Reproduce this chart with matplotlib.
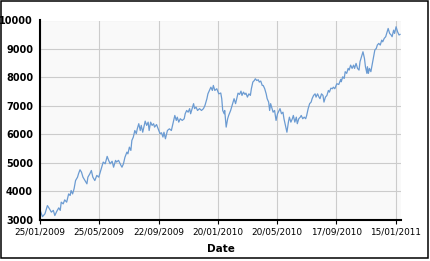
import datetime as dt

import matplotlib
matplotlib.use('Agg')
import matplotlib.pyplot as plt
from matplotlib.patches import Rectangle

# series: days after 25/01/2009 and index value
start = dt.date(2009, 1, 25)
day = [1, 5, 10, 15, 19, 23, 27, 30, 34, 38, 41, 43, 47, 50, 54, 58, 61, 63, 66, 69,
       72, 76, 78, 81, 84, 87, 91, 95, 97, 101, 104, 107, 111, 115, 119,
       123, 128, 132, 136, 139, 142, 146, 149, 153, 155, 159, 164, 166, 169, 172, 176,
       178, 181, 184, 186, 189, 192, 195, 197, 200, 203, 205, 208, 211, 213, 216, 219,
       221, 224, 227, 230, 232, 236, 239, 243, 246,
       249, 251, 254, 258, 262, 266, 270, 273, 276, 278, 281, 284, 288, 292, 294, 297,
       300, 303, 305, 308, 311, 313, 316, 319, 323, 327, 331, 334, 338, 340, 343, 346,
       349, 351, 354, 358, 362, 366, 368, 370,
       373, 374, 377, 380, 382, 386, 391, 393, 396, 399, 401, 404, 407, 409, 412, 415,
       417, 420, 423, 426, 428, 431, 434, 436, 439, 442, 444, 447, 450, 452, 455, 458,
       460, 463, 465, 467, 470, 472, 475, 478, 481,
       486, 489, 492, 494, 497, 500, 503, 505, 508, 511, 513, 516, 519, 521, 524, 527,
       529, 532, 535, 538, 540, 543, 546, 549, 551, 554, 557, 559, 562, 565, 567, 570,
       573, 575, 578, 581, 584, 586, 589, 592, 594, 597, 601, 605,
       609, 610, 613, 616, 618, 621, 624, 626, 629, 632, 635, 637, 640, 643, 646, 648,
       651, 654, 657, 659, 662, 663, 665, 667, 670, 673, 675, 678, 681, 683, 686, 689,
       692, 694, 697, 700, 702, 705, 708, 711, 713, 716, 718, 721, 724, 727, 729]
value = [3290, 3100, 3200, 3490, 3380, 3260, 3320, 3140, 3290, 3410, 3320, 3610, 3550, 3690,
         3610, 3900, 3845, 4020, 3900, 4080, 4370, 4490, 4610, 4750, 4665, 4490, 4370, 4255,
         4490, 4610, 4725, 4490, 4370, 4550, 4490,
         4725, 5020, 4960, 5220, 5080, 4960, 5050, 4840, 5080, 5020, 5080, 4900, 4840, 4960,
         5190, 5370, 5310, 5545, 5430, 5780, 5900, 6130, 6020, 6190, 6370, 6130, 6310, 6070,
         6310, 6460, 6310, 6425, 6130, 6425, 6310, 6370, 6250, 6340, 6200, 6020, 6050,
         5900, 6070, 5840, 6130, 6190, 6130, 6425, 6660, 6485, 6600, 6425, 6545, 6485, 6545,
         6720, 6835, 6775, 6900, 6720, 6900, 7075, 6900, 6955, 6835, 6900, 6835, 6900, 7010,
         7250, 7420, 7540, 7655, 7540, 7715, 7540, 7600, 7420, 7450, 7250, 6835,
         6720, 6835, 6250, 6545, 6660, 6835, 7130, 7250, 7075, 7305, 7445, 7400, 7515, 7365,
         7480, 7400, 7445, 7305, 7420, 7365, 7600, 7835, 7890, 7950, 7890, 7915, 7835, 7870,
         7715, 7715, 7600, 7420, 7250, 7130, 6835, 7075, 6900, 6775, 6835, 6485, 6720,
         6900, 6720, 6775, 6545, 6310, 6070, 6425, 6600, 6425, 6545, 6660, 6425, 6600, 6370,
         6545, 6600, 6660, 6545, 6600, 6545, 6660, 6900, 7075, 7130, 7250, 7365, 7420, 7305,
         7420, 7305, 7250, 7420, 7365, 7130, 7305, 7365, 7540, 7480, 7620, 7600, 7655, 7600,
         7775, 7750,
         7930, 7845, 8020, 7960, 8200, 8140, 8315, 8255, 8430, 8315, 8430, 8315, 8490, 8315,
         8255, 8550, 8725, 8900, 8665, 8375, 8140, 8375, 8140, 8315, 8200, 8490, 8665, 8960,
         9020, 9135, 9195, 9135, 9310, 9250, 9370, 9430, 9545, 9720, 9545, 9490, 9430, 9660,
         9545, 9780, 9605, 9490, 9510]

tick_labels = ['25/01/2009', '25/05/2009', '22/09/2009', '20/01/2010',
               '20/05/2010', '17/09/2010', '15/01/2011']
y_ticks = [3000, 4000, 5000, 6000, 7000, 8000, 9000, 10000]

dates = [start + dt.timedelta(days=d) for d in day]
ticks = [dt.datetime.strptime(t, '%d/%m/%Y').date() for t in tick_labels]

fig = plt.figure(figsize=(4.3, 2.61), dpi=100)
ax = fig.add_axes([40 / 430, 1 - 219.5 / 261, 361 / 430, 199 / 261])
ax.set_facecolor('#f9f9f9')
ax.plot(dates, value, color='#6b9bd2', lw=0.9)

ax.set_ylim(3000, 10000)
ax.set_xlim(start, start + dt.timedelta(days=731))
ax.set_yticks(y_ticks)
ax.set_xticks(ticks)
ax.set_xticklabels(tick_labels)
ax.grid(color='#cccccc', lw=0.8)
ax.set_axisbelow(True)

for s in ['top', 'right']:
    ax.spines[s].set_visible(False)
for s in ['left', 'bottom']:
    ax.spines[s].set_linewidth(1.5)

ax.tick_params(axis='y', length=0, pad=5, labelsize=7)
for lab in ax.get_yticklabels():
    lab.set_fontweight('bold')
ax.tick_params(axis='x', length=3, width=0.8, pad=3, labelsize=6.4)
ax.set_xlabel('Date', fontsize=7.5, fontweight='bold', labelpad=5)

fig.add_artist(Rectangle((0.75 / 430, 2.75 / 261), 427.5 / 430, 257.5 / 261,
                         transform=fig.transFigure, fill=False, ec='black', lw=1.1))

fig.savefig('out.png', dpi=100)
